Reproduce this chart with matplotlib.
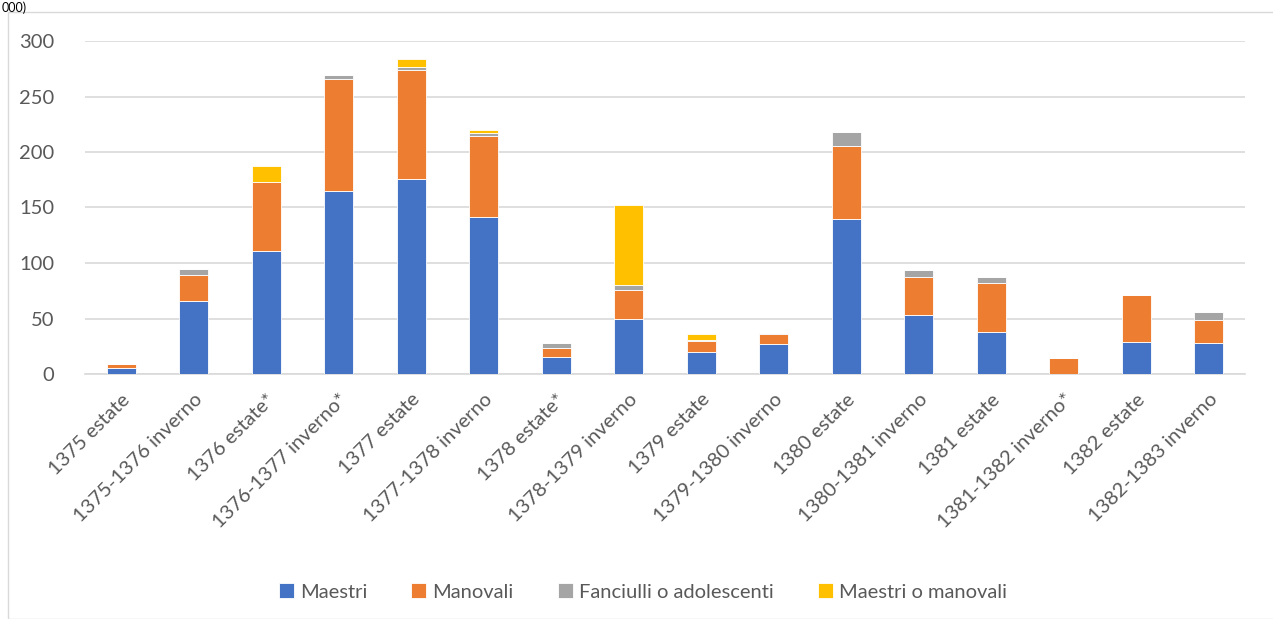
import numpy as np
import matplotlib
matplotlib.use("Agg")
import matplotlib.pyplot as plt
from matplotlib.patches import Rectangle

plt.rcParams['font.family'] = ['Lato', 'DejaVu Sans']

periodi = ["1375 estate", "1375-1376 inverno", "1376 estate*", "1376-1377 inverno*",
           "1377 estate", "1377-1378 inverno", "1378 estate*", "1378-1379 inverno",
           "1379 estate", "1379-1380 inverno", "1380 estate", "1380-1381 inverno",
           "1381 estate", "1381-1382 inverno*", "1382 estate", "1382-1383 inverno"]
maestri = [5, 66, 111, 165, 176, 141, 15, 50, 20, 27, 140, 53, 38, 0, 29, 28]
manovali = [4, 23, 62, 101, 98, 73, 8, 26, 10, 9, 65, 34, 44, 14, 42, 21]
fanciulli = [0, 6, 0, 3, 3, 3, 5, 4, 1, 1, 13, 7, 5, 0, 0, 7]
maestri_o_manovali = [0, 0, 14, 0, 7, 3, 0, 72, 5, 0, 0, 0, 0, 0, 0, 0]

serie = [("Maestri", maestri, "#4472C4"),
         ("Manovali", manovali, "#ED7D31"),
         ("Fanciulli o adolescenti", fanciulli, "#A5A5A5"),
         ("Maestri o manovali", maestri_o_manovali, "#FFC000")]

W, H = 1273, 619
fig = plt.figure(figsize=(W / 100, H / 100), dpi=100)
ax = fig.add_axes([85 / W, 1 - 374 / H, (1245 - 85) / W, (374 - 41) / H])

# riquadro esterno del grafico (tagliato in alto come nello screenshot)
fig.patches.append(Rectangle((8 / W, 0), 1.2, 1 - 12 / H, transform=fig.transFigure,
                             fill=False, edgecolor="#d9d9d9", linewidth=1))
fig.text(2 / W, 1 - 1 / H, "000)", fontsize=9, color="black", va="top")

x = np.arange(len(periodi))
bottom = np.zeros(len(periodi))
for nome, vals, col in serie:
    vals = np.array(vals, dtype=float)
    ax.bar(x, vals, width=0.4, bottom=bottom, color=col, edgecolor="white",
           linewidth=0.6, label=nome, zorder=3)
    bottom += vals

ax.set_xlim(-0.5, len(periodi) - 0.5)
ax.set_ylim(0, 300)
ax.set_yticks(range(0, 301, 50))
ax.yaxis.grid(True, color="#d9d9d9", linewidth=1.2, zorder=0)
for s in ["top", "right", "left"]:
    ax.spines[s].set_visible(False)
ax.spines["bottom"].set_color("#d9d9d9")
ax.spines["bottom"].set_linewidth(1.2)
ax.tick_params(axis="both", length=0, colors="#595959", labelsize=14.5)
ax.tick_params(axis="y", pad=22)
ax.set_xticks(x)
ax.set_xticklabels(periodi, rotation=45, ha="right", rotation_mode="anchor")
ax.tick_params(axis="x", pad=12)

leg = ax.legend(loc="center", ncol=4, frameon=False, fontsize=14.5,
                handlelength=0.75, handleheight=0.75, handletextpad=0.3,
                columnspacing=2.2, labelcolor="#595959")
leg.set_bbox_to_anchor((643 / W, 1 - 592 / H), transform=fig.transFigure)

fig.savefig("out.png", dpi=100)
